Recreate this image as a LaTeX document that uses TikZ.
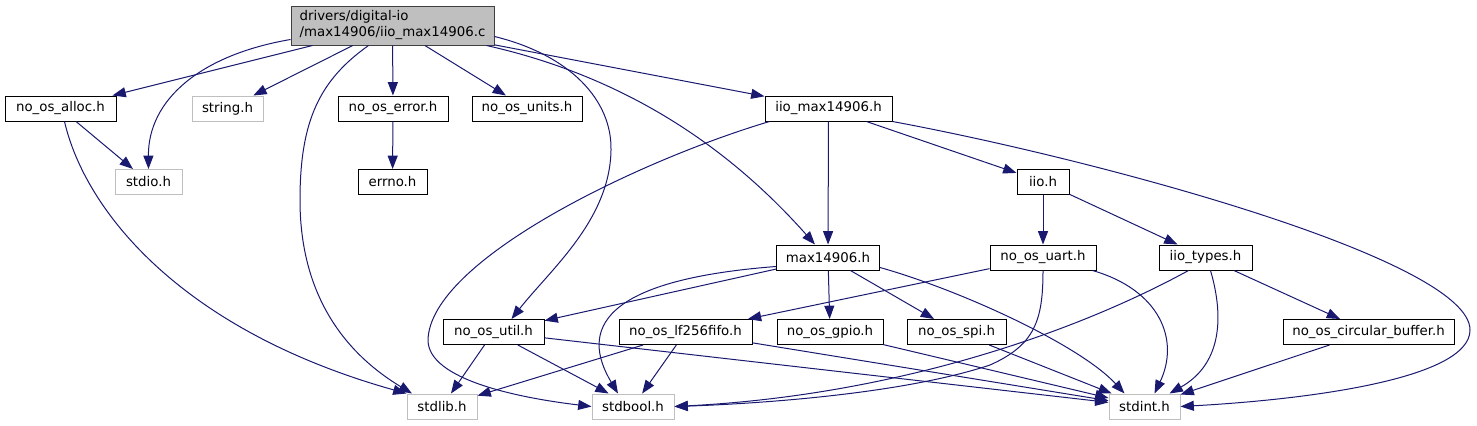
\documentclass[tikz,border=0pt]{standalone}
\usepackage{fontspec}
\setmainfont{DejaVu Sans}
\usetikzlibrary{arrows.meta,calc}
\definecolor{depline}{HTML}{191970}
\definecolor{sysgray}{HTML}{BFBFBF}
\definecolor{rootline}{HTML}{404040}
\begin{document}
\begin{tikzpicture}[x=0.75pt,y=-0.75pt,every node/.style={font=\fontsize{10}{12}\selectfont},>={Triangle[length=10pt,width=7.5pt]},line width=0.75pt]
\tikzset{box/.style={draw,minimum height=18.75pt,inner sep=0pt}, sys/.style={box,draw=sysgray}, dep/.style={->,depline}}
\useasboundingbox (0,0) rectangle (1477,425);
\node[box,fill=sysgray,draw=rootline,minimum width=152.25pt,minimum height=29.25pt,align=left] (root) at (392.5,25.5) {drivers/digital-io\\/max14906/iio\_max14906.c};
\node[box,minimum width=83.25pt] (alloc) at (60.5,108.5) {no\_os\_alloc.h};
\node[sys,minimum width=53.25pt] (string) at (227.5,108.5) {string.h};
\node[box,minimum width=82.5pt] (error) at (393,108.5) {no\_os\_error.h};
\node[box,minimum width=82.5pt] (units) at (527,108.5) {no\_os\_units.h};
\node[box,minimum width=95.25pt] (iiomax) at (828.5,108.5) {iio\_max14906.h};
\node[sys,minimum width=50.25pt] (stdio) at (148.5,182) {stdio.h};
\node[box,minimum width=51.75pt] (errno) at (392.5,182) {errno.h};
\node[box,minimum width=39pt] (iio) at (1043,182) {iio.h};
\node[box,minimum width=77.25pt] (max) at (828,257.5) {max14906.h};
\node[box,minimum width=79.5pt] (uart) at (1043,257.5) {no\_os\_uart.h};
\node[box,minimum width=69.75pt] (types) at (1205.5,257.5) {iio\_types.h};
\node[box,minimum width=75.75pt] (util) at (493.5,332) {no\_os\_util.h};
\node[box,minimum width=99.75pt] (fifo) at (685.5,332) {no\_os\_lf256fifo.h};
\node[box,minimum width=79.5pt] (gpio) at (830,332) {no\_os\_gpio.h};
\node[box,minimum width=74.25pt] (spi) at (956.5,332) {no\_os\_spi.h};
\node[box,minimum width=128.25pt] (circ) at (1368.5,332) {no\_os\_circular\_buffer.h};
\node[sys,minimum width=52.5pt] (stdlib) at (442,406.5) {stdlib.h};
\node[sys,minimum width=61.5pt] (stdbool) at (633,406.5) {stdbool.h};
\node[sys,minimum width=53.25pt] (stdint) at (1144.5,406.5) {stdint.h};
% from the source file
\draw[dep] (root) -- (alloc);
\draw[dep] ($(root.west)+(0,14)$) .. controls (200,55) and (148,100) .. (stdio.north);
\draw[dep] (root) -- (string);
\draw[dep] ($(root.south)+(-24,0)$) .. controls (320,80) and (300,120) .. (300,200) .. controls (300,290) and (340,350) .. ($(stdlib.north)+(-30,0)$);
\draw[dep] (root) -- (error);
\draw[dep] (root) -- (units);
\draw[dep] ($(root.east)+(0,11)$) .. controls (570,55) and (612,100) .. (611,150) .. controls (610,220) and (550,270) .. ($(util.north)+(18,0)$);
\draw[dep] ($(root.south east)+(-8,0)$) .. controls (640,80) and (740,160) .. ($(max.north)+(-13,0)$);
\draw[dep] (root) -- (iiomax);
% second level
\draw[dep] (alloc) -- (stdio);
\draw[dep] ($(alloc.south)+(4,0)$) .. controls (85,210) and (180,330) .. (stdlib.north west);
\draw[dep] (error) -- (errno);
\draw[dep] ($(iiomax.south west)+(5,0)$) .. controls (640,160) and (430,260) .. (428,340) .. controls (428,380) and (520,398) .. (stdbool.west);
\draw[dep] (iiomax) -- (max);
\draw[dep] (iiomax) -- (iio);
\draw[dep] (iiomax.south east) .. controls (1100,160) and (1470,260) .. (1470,330) .. controls (1470,380) and (1300,400) .. (stdint.east);
\draw[dep] (iio) -- (uart);
\draw[dep] (iio) -- (types);
% max14906.h
\draw[dep] (max) -- (util);
\draw[dep] ($(max.south west)+(0,-4)$) .. controls (600,280) and (580,330) .. ($(stdbool.north)+(-15,0)$);
\draw[dep] (max) -- (gpio);
\draw[dep] (max) -- (spi);
\draw[dep] ($(max.east)+(0,10)$) .. controls (960,290) and (1080,345) .. ($(stdint.north)+(-20,0)$);
% uart and types
\draw[dep] (uart) -- (fifo);
\draw[dep] (uart.south) .. controls (1043,320) and (1035,345) .. (990,365) .. controls (900,395) and (750,404) .. (stdbool.east);
\draw[dep] ($(uart.south east)+(-4,0)$) .. controls (1160,290) and (1180,340) .. ($(stdint.north)+(10,0)$);
\draw[dep] ($(types.south)+(-17,0)$) .. controls (1080,330) and (900,395) .. (stdbool.east);
\draw[dep] ($(types.south)+(5,0)$) .. controls (1225,320) and (1220,365) .. ($(stdint.north)+(25,0)$);
\draw[dep] (types) -- (circ);
% bottom level
\draw[dep] (util) -- (stdlib);
\draw[dep] (util) -- (stdbool);
\draw[dep] (util) -- (stdint);
\draw[dep] (fifo) -- (stdlib);
\draw[dep] (fifo) -- (stdbool);
\draw[dep] (fifo) -- (stdint);
\draw[dep] (gpio) -- (stdint);
\draw[dep] (spi) -- (stdint);
\draw[dep] (circ) -- (stdint);
\end{tikzpicture}
\end{document}
